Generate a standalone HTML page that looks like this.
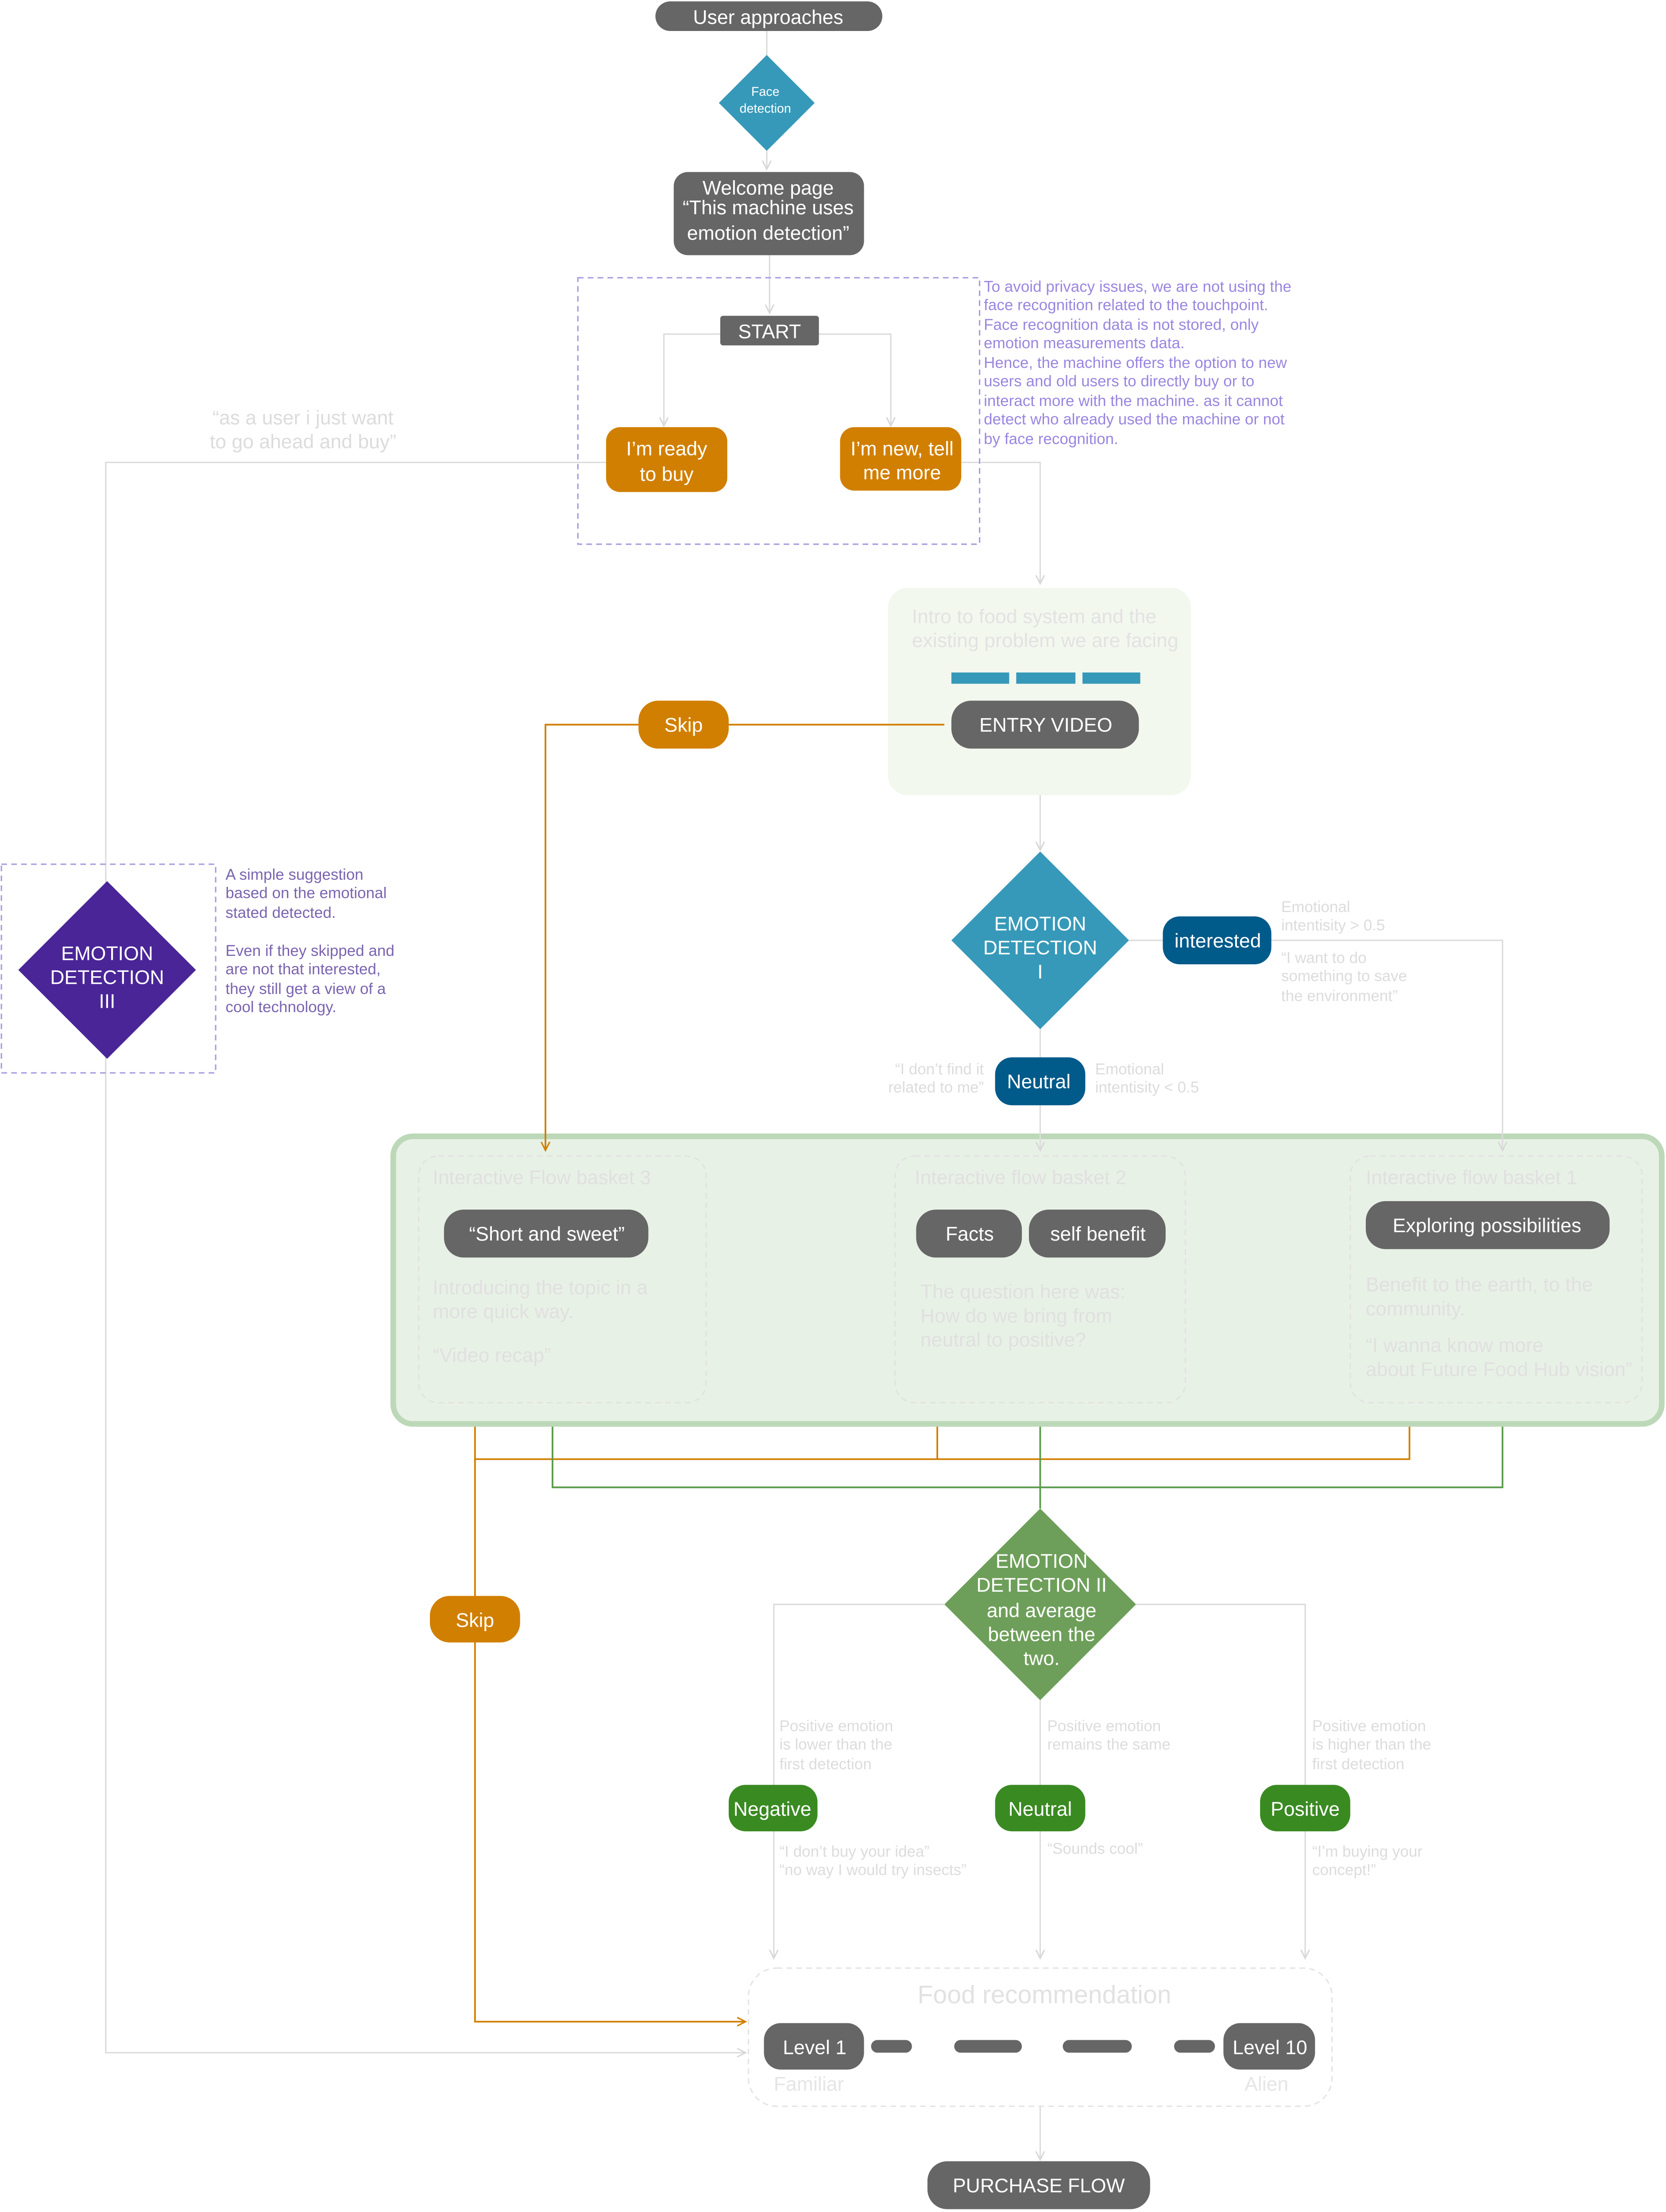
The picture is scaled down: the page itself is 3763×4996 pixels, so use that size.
<!DOCTYPE html>
<html><head><meta charset="utf-8"><style>html,body{margin:0;padding:0;background:#fff}svg{display:block}text{font-family:"Liberation Sans",sans-serif}</style></head><body>
<svg width="3763" height="4996" viewBox="0 0 1182 1569" preserveAspectRatio="none" xmlns="http://www.w3.org/2000/svg">
<defs>
<marker id="ag" markerWidth="8" markerHeight="8" refX="7" refY="4" orient="auto" markerUnits="userSpaceOnUse"><path d="M1,1 L7,4 L1,7" fill="none" stroke="#d8d8d8" stroke-width="1"/></marker>
<marker id="ao" markerWidth="8" markerHeight="8" refX="7" refY="4" orient="auto" markerUnits="userSpaceOnUse"><path d="M1,1 L7,4 L1,7" fill="none" stroke="#d17f00" stroke-width="1"/></marker>
</defs>
<g fill="none" stroke="#dcdcdc" stroke-width="1">
<path d="M544,22V40"/><path d="M544,107V120" marker-end="url(#ag)"/>
<path d="M546,181V222" marker-end="url(#ag)"/>
<path d="M511,237H471V302" marker-end="url(#ag)"/><path d="M581,237H632V302" marker-end="url(#ag)"/>
<path d="M430,328H75V1456H529" marker-end="url(#ag)"/>
<path d="M682,328H738V414" marker-end="url(#ag)"/>
<path d="M738,531V603" marker-end="url(#ag)"/>
<path d="M801,667H825"/>
<path d="M670,1138H549V1389" marker-end="url(#ag)"/><path d="M806,1138H926V1389" marker-end="url(#ag)"/>
<path d="M738,1206V1389" marker-end="url(#ag)"/>
<path d="M738,1494V1532" marker-end="url(#ag)"/>
</g>
<rect x="410" y="197" width="285" height="189" fill="none" stroke="#a99be0" stroke-dasharray="4,3"/>
<rect x="1" y="613" width="152" height="148" fill="none" stroke="#a99be0" stroke-dasharray="4,3"/>
<rect x="465" y="1" width="161" height="21" rx="10.5" fill="#666"/>
<text x="545" y="17" font-size="14" fill="#fff" text-anchor="middle">User approaches</text>
<path d="M544,39 L578,73 L544,107 L510,73Z" fill="#3799b9"/>
<text x="543" y="68" font-size="9" fill="#fff" text-anchor="middle">Face</text>
<text x="543" y="80" font-size="9" fill="#fff" text-anchor="middle">detection</text>
<rect x="478" y="122" width="135" height="59" rx="10" fill="#666"/>
<g font-size="14" fill="#fff" text-anchor="middle"><text x="545" y="138">Welcome page</text><text x="545" y="152">“This machine uses</text><text x="545" y="170">emotion detection”</text></g>
<rect x="511" y="224" width="70" height="21" rx="2" fill="#666"/>
<text x="546" y="240" font-size="14" fill="#fff" text-anchor="middle">START</text>
<rect x="430" y="303" width="86" height="46" rx="10" fill="#d17f00"/>
<g font-size="14" fill="#fff" text-anchor="middle"><text x="473" y="323">I’m ready</text><text x="473" y="341">to buy</text></g>
<rect x="596" y="303" width="86" height="45" rx="10" fill="#d17f00"/>
<g font-size="14" fill="#fff" text-anchor="middle"><text x="640" y="323">I’m new, tell</text><text x="640" y="340">me more</text></g>
<g font-size="11" fill="#9a86e0"><text x="698" y="207">To avoid privacy issues, we are not using the</text><text x="698" y="220">face recognition related to the touchpoint.</text><text x="698" y="234">Face recognition data is not stored, only</text><text x="698" y="247">emotion measurements data.</text><text x="698" y="261">Hence, the machine offers the option to new</text><text x="698" y="274">users and old users to directly buy or to</text><text x="698" y="288">interact more with the machine. as it cannot</text><text x="698" y="301">detect who already used the machine or not</text><text x="698" y="315">by face recognition.</text></g>
<g font-size="14" fill="#dcdcdc" text-anchor="middle"><text x="215" y="301">“as a user i just want</text><text x="215" y="318">to go ahead and buy”</text></g>
<rect x="630" y="417" width="215" height="147" rx="14" fill="#f3f8ef"/>
<g font-size="14" fill="#e2e2e2"><text x="647" y="442">Intro to food system and the</text><text x="647" y="459">existing problem we are facing</text></g>
<rect x="675" y="477" width="41" height="8" fill="#3799b9"/><rect x="721" y="477" width="42" height="8" fill="#3799b9"/><rect x="768" y="477" width="41" height="8" fill="#3799b9"/>
<rect x="675" y="497" width="133" height="34" rx="14" fill="#666"/>
<text x="742" y="519" font-size="14" fill="#fff" text-anchor="middle">ENTRY VIDEO</text>
<path d="M738,604 L801,667 L738,730 L675,667Z" fill="#3799b9"/>
<g font-size="14" fill="#fff" text-anchor="middle"><text x="738" y="660">EMOTION</text><text x="738" y="677">DETECTION</text><text x="738" y="694">I</text></g>
<g font-size="11" fill="#dcdcdc"><text x="909" y="647">Emotional</text><text x="909" y="660">intentisity &gt; 0.5</text><text x="909" y="683">“I want to do</text><text x="909" y="696">something to save</text><text x="909" y="710">the environment”</text>
<text x="698" y="762" text-anchor="end">“I don’t find it</text><text x="698" y="775" text-anchor="end">related to me”</text><text x="777" y="762">Emotional</text><text x="777" y="775">intentisity &lt; 0.5</text></g>
<path d="M76,625 L139,688 L76,751 L13,688Z" fill="#4a2597"/>
<g font-size="14" fill="#fff" text-anchor="middle"><text x="76" y="681">EMOTION</text><text x="76" y="698">DETECTION</text><text x="76" y="715">III</text></g>
<g font-size="11" fill="#7b64b0"><text x="160" y="624">A simple suggestion</text><text x="160" y="637">based on the emotional</text><text x="160" y="651">stated detected.</text><text x="160" y="678">Even if they skipped and</text><text x="160" y="691">are not that interested,</text><text x="160" y="705">they still get a view of a</text><text x="160" y="718">cool technology.</text></g>
<rect x="279" y="806" width="900" height="204" rx="14" fill="#e8f1e6" stroke="#bcd8b8" stroke-width="4"/>
<g fill="none" stroke="#e2e2e2" stroke-dasharray="4,3"><rect x="297" y="820" width="204" height="175" rx="14"/><rect x="635" y="820" width="206" height="175" rx="14"/><rect x="958" y="820" width="207" height="175" rx="14"/></g>
<g fill="none" stroke="#dcdcdc" stroke-width="1">
<path d="M738,730V816" marker-end="url(#ag)"/>
<path d="M902,667H1066V816" marker-end="url(#ag)"/>
</g>
<path d="M670,514H387V816" fill="none" stroke="#d17f00" stroke-width="1.2" marker-end="url(#ao)"/>
<rect x="453" y="497" width="64" height="34" rx="14" fill="#d17f00"/>
<text x="485" y="519" font-size="14" fill="#fff" text-anchor="middle">Skip</text>
<rect x="825" y="650" width="77" height="34" rx="12" fill="#005a8a"/>
<text x="864" y="672" font-size="14" fill="#fff" text-anchor="middle">interested</text>
<rect x="706" y="750" width="64" height="34" rx="12" fill="#005a8a"/>
<text x="737" y="772" font-size="14" fill="#fff" text-anchor="middle">Neutral</text>
<g font-size="14" fill="#e0e0e0"><text x="307" y="840">Interactive Flow basket 3</text><text x="649" y="840">Interactive flow basket 2</text><text x="969" y="840">Interactive flow basket 1</text>
<text x="307" y="918">Introducing the topic in a</text><text x="307" y="935">more quick way.</text><text x="307" y="966">“Video recap”</text>
<text x="653" y="921">The question here was:</text><text x="653" y="938">How do we bring from</text><text x="653" y="955">neutral to positive?</text>
<text x="969" y="916">Benefit to the earth, to the</text><text x="969" y="933">community.</text><text x="969" y="959">“I wanna know more</text><text x="969" y="976">about Future Food Hub vision”</text></g>
<rect x="315" y="858" width="145" height="34" rx="14" fill="#666"/><text x="388" y="880" font-size="14" fill="#fff" text-anchor="middle">“Short and sweet”</text>
<rect x="650" y="858" width="75" height="34" rx="14" fill="#666"/><text x="688" y="880" font-size="14" fill="#fff" text-anchor="middle">Facts</text>
<rect x="730" y="858" width="97" height="34" rx="14" fill="#666"/><text x="779" y="880" font-size="14" fill="#fff" text-anchor="middle">self benefit</text>
<rect x="969" y="852" width="173" height="34" rx="14" fill="#666"/><text x="1055" y="874" font-size="14" fill="#fff" text-anchor="middle">Exploring possibilities</text>
<g fill="none" stroke-width="1.2">
<path d="M337,1012V1434H529" stroke="#d17f00" marker-end="url(#ao)"/>
<path d="M337,1035H1000V1012M665,1012V1035" stroke="#d17f00"/>
<path d="M392,1012V1055H1066V1012" stroke="#5a9a4a"/>
<path d="M738,1012V1070" stroke="#5a9a4a"/>
</g>
<rect x="305" y="1132" width="64" height="33" rx="14" fill="#d17f00"/><text x="337" y="1154" font-size="14" fill="#fff" text-anchor="middle">Skip</text>
<path d="M738,1070 L806,1138 L738,1206 L670,1138Z" fill="#6e9f5a"/>
<g font-size="14" fill="#fff" text-anchor="middle"><text x="739" y="1112">EMOTION</text><text x="739" y="1129">DETECTION II</text><text x="739" y="1147">and average</text><text x="739" y="1164">between the</text><text x="739" y="1181">two.</text></g>
<g font-size="11" fill="#dcdcdc"><text x="553" y="1228">Positive emotion</text><text x="553" y="1241">is lower than the</text><text x="553" y="1255">first detection</text>
<text x="743" y="1228">Positive emotion</text><text x="743" y="1241">remains the same</text>
<text x="931" y="1228">Positive emotion</text><text x="931" y="1241">is higher than the</text><text x="931" y="1255">first detection</text>
<text x="553" y="1317">“I don’t buy your idea”</text><text x="553" y="1330">“no way I would try insects”</text>
<text x="743" y="1315">“Sounds cool”</text>
<text x="931" y="1317">“I’m buying your</text><text x="931" y="1330">concept!”</text></g>
<rect x="517" y="1266" width="63" height="33" rx="12" fill="#3a8a22"/><text x="548" y="1288" font-size="14" fill="#fff" text-anchor="middle">Negative</text>
<rect x="706" y="1266" width="64" height="33" rx="12" fill="#3a8a22"/><text x="738" y="1288" font-size="14" fill="#fff" text-anchor="middle">Neutral</text>
<rect x="894" y="1266" width="64" height="33" rx="12" fill="#3a8a22"/><text x="926" y="1288" font-size="14" fill="#fff" text-anchor="middle">Positive</text>
<rect x="531" y="1396" width="414" height="98" rx="20" fill="none" stroke="#e4e4e4" stroke-dasharray="4,3"/>
<text x="741" y="1421" font-size="18" fill="#e2e2e2" text-anchor="middle">Food recommendation</text>
<rect x="542" y="1435" width="71" height="33" rx="12" fill="#666"/><text x="578" y="1457" font-size="14" fill="#fff" text-anchor="middle">Level 1</text>
<rect x="868" y="1435" width="65" height="33" rx="12" fill="#666"/><text x="901" y="1457" font-size="14" fill="#fff" text-anchor="middle">Level 10</text>
<g fill="#666"><rect x="618" y="1447" width="29" height="9" rx="4.5"/><rect x="677" y="1447" width="48" height="9" rx="4.5"/><rect x="754" y="1447" width="49" height="9" rx="4.5"/><rect x="833" y="1447" width="29" height="9" rx="4.5"/></g>
<g font-size="14" fill="#e5e5e5"><text x="549" y="1483">Familiar</text><text x="883" y="1483">Alien</text></g>
<rect x="658" y="1533" width="158" height="34" rx="14" fill="#666"/><text x="737" y="1555" font-size="14" fill="#fff" text-anchor="middle">PURCHASE FLOW</text>
</svg>
</body></html>
